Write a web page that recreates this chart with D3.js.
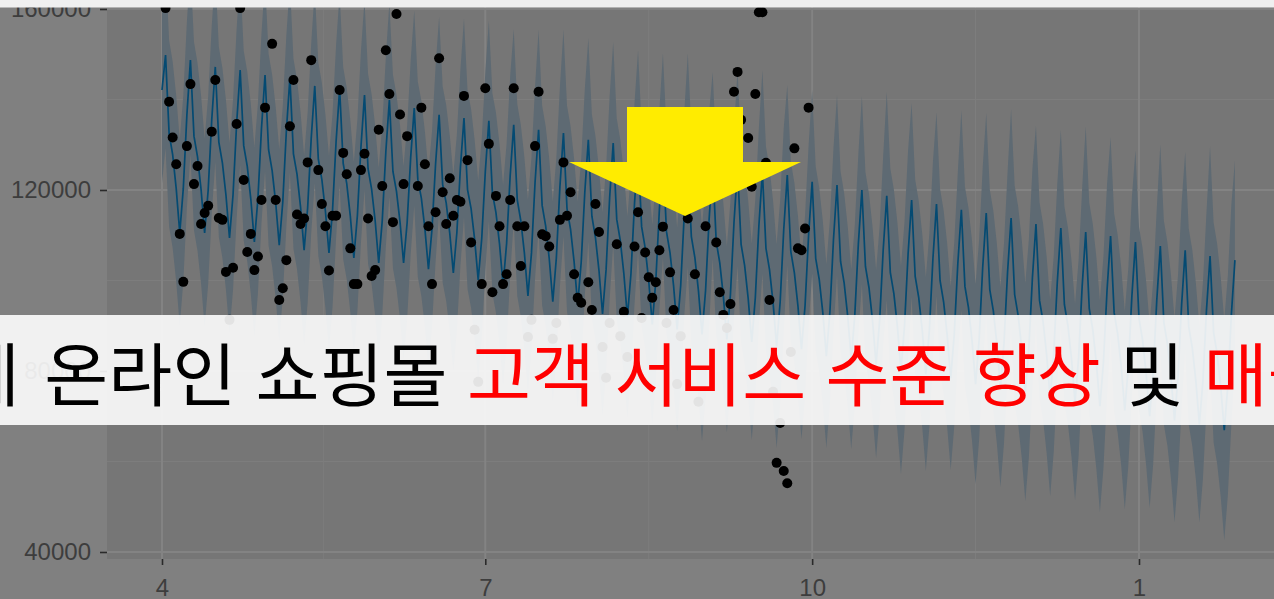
<!DOCTYPE html>
<html lang="ko">
<head>
<meta charset="utf-8">
<title>Forecast</title>
<script src="https://d3js.org/d3.v7.min.js"></script>
<style>
  body { margin: 0; background: #808080; overflow: hidden; }
  svg { display: block; }
</style>
</head>
<body>
<script>
let width = 1274
let height = 599

// first day of the series, every other day is an offset from it
let startDate = "2018-04-01"

// observed points (day offset, value)
let obsDay = [1,2,3,4,5,6,7,8,9,10,11,12,13,14,15,16,17,18,19,20,21,22,23,24,25,26,27,28,29,31,32,33,34,35,36,37,38,39,40,41,42,44,45,46,47,48,49,50,51,52,53,54,55,56,57,58,59,60,61,62,63,64,65,66,67,68,69,72,73,74,75,76,77,78,79,80,81,82,83,84,85,86,87,88,89,90,91,92,93,94,95,96,97,98,99,100,101,102,103,104,105,106,107,108,109,110,111,112,113,114,115,116,117,118,120,121,122,123,124,125,126,128,129,130,131,133,134,135,136,137,138,139,140,141,142,143,144,145,146,148,150,151,153,156,157,158,159,160,161,162,163,165,166,167,168,169,170,171,172,173,174,175,176,177,178,179,180,181,182]
let obsValue = [160200,139500,131600,125700,110300,99700,129700,143400,121300,125300,112500,114900,116500,132900,144300,113800,113400,101900,91300,102800,134600,160200,122200,106300,110300,102300,105300,117800,138200,152300,117800,95700,98300,104500,134100,144300,114600,112500,113700,126100,148700,124400,116900,112000,102200,114300,114300,142100,128200,123500,107100,99200,99200,124400,128000,113700,101000,102300,133300,120900,150900,141200,112900,158900,136700,121300,131900,120900,138200,125700,112000,99200,115100,149100,119500,112500,122600,114300,117800,117400,140800,126600,108400,89100,77600,99200,142500,130200,97400,118700,112000,99200,101400,117800,142500,112000,103200,112000,87500,91300,129700,141700,110200,109800,107500,87100,90600,113400,126100,114300,119500,101400,96200,95100,99600,93500,116900,110700,85300,78500,90600,108000,87700,93100,83100,107500,115100,91700,106200,100700,96200,99600,106700,111900,90600,101800,93500,77100,87700,113700,101400,73200,112000,108400,97400,92400,89500,94800,141700,146100,135500,131500,120700,141200,159300,159300,126000,95700,75400,59700,68500,57900,55200,84200,129200,107100,106700,111500,138200]

// fitted + forecast line, one value per day from day 0 to day 302
let yhat = [142100,
  149800,132500,127800,120300,110500,120400,136500,
  148700,131900,127300,120100,110500,120000,135500,
  147200,130600,126000,118900,109400,119000,134600,
  146500,129800,125200,118000,108500,118100,133600,
  145400,128900,124300,117200,107800,117400,133000,
  144800,128000,123500,116200,106700,116100,131400,
  143000,126800,122300,115300,106100,115500,130700,
  142300,125900,121400,114300,105000,114400,129500,
  141000,124700,120200,113200,103900,113300,128400,
  139900,124100,119700,112900,103900,112800,127200,
  138100,122400,118200,111400,102500,111400,125700,
  136600,121200,117100,110400,101700,110600,125000,
  135900,120100,115900,109100,100100,109300,124000,
  135300,119300,115000,108100,99000,108200,123100,
  134400,117800,113200,106100,96600,106100,121600,
  133300,116600,112000,104800,95300,105000,120700,
  132600,115900,111300,104100,94600,104100,119400,
  131100,114200,109500,102200,92600,102400,118300,
  130400,113500,108800,101500,91900,101500,117000,
  128800,111900,107200,99900,90300,100000,115700,
  127700,110800,106100,98800,89200,98900,114600,
  126600,109700,105000,97700,88100,97800,113500,
  125500,108600,103900,96600,87000,96900,112800,
  124900,108000,103300,96000,86400,96200,112000,
  124000,107100,102400,95100,85500,95300,111200,
  123300,106400,101700,94400,84800,94400,110000,
  121800,104900,100200,92900,83300,93100,109000,
  121100,104200,99500,92200,82600,92300,108000,
  120000,103100,98400,91100,81500,91200,106800,
  118700,101800,97100,89800,80200,90000,105800,
  117800,100900,96200,88900,79300,89100,104900,
  116900,100000,95300,88000,78400,88100,103700,
  115600,98700,94000,86700,77100,86900,102800,
  114900,98000,93300,86000,76400,86100,101800,
  113800,96900,92200,84900,75300,85000,100600,
  112500,95600,90900,83600,74000,83800,99600,
  111600,94700,90000,82700,73100,82900,98700,
  110700,93800,89100,81800,72200,82000,97800,
  109800,92900,88200,80900,71300,81000,96600,
  108500,91600,86900,79600,70000,79800,95600,
  107600,90700,86000,78700,69100,78900,94700,
  106700,89800,85100,77800,68200,77900,93500,
  105400,88500,83800,76500,66900,76700,92500,
  104500]

// half width of the uncertainty band, one value per week
let bandHalfWidth = [20600,20800,21000,21000,21200,21000,21400,21200,21000,21400,21600,21700,22000,22100,21200,22100,22800,22500,22300,22100,22500,23600,20600,21700,22500,19900,20300,19900,20800,23000,21400,20300,22100,22100,24100,21700,21700,23400,21900,20300,22500,21700,24300,22100]

let yTicks = [40000, 80000, 120000, 160000]
let yMinorTicks = [60000, 100000, 140000]
let xTicks = ["2018-04-01", "2018-07-01", "2018-10-01", "2019-01-01"]

let bannerWords = ["실제", "온라인 쇼핑몰", "고객 서비스 수준 향상", "및", "매출 증대"]
let bannerEmphasis = [false, false, true, false, true]

let parse = d3.timeParse("%Y-%m-%d")
let t0 = parse(startDate)
let dayDate = (d) => d3.timeDay.offset(t0, d)

let panel = {left: 107, right: 1292, top: -30, bottom: 559}

let x = d3.scaleTime()
    .domain([parse(xTicks[0]), parse(xTicks[3])])
    .range([162, 1139])

let y = d3.scaleLinear()
    .domain([40000, 160000])
    .range([552, 9])

let forecast = yhat.map((v, i) => {
    let w = bandHalfWidth[i === 0 ? 0 : Math.floor((i - 1) / 7)]
    return {date: dayDate(i), yhat: v, lo: v - w, hi: v + w}
})
let observed = obsDay.map((d, i) => ({date: dayDate(d), value: obsValue[i]}))

let svg = d3.select("body").append("svg")
    .attr("width", width)
    .attr("height", height)

svg.append("rect")
    .attr("width", width).attr("height", height)
    .attr("fill", "#808080")

svg.append("clipPath").attr("id", "clip")
    .append("rect")
    .attr("x", panel.left).attr("y", panel.top)
    .attr("width", panel.right - panel.left)
    .attr("height", panel.bottom - panel.top)

svg.append("rect")
    .attr("x", panel.left).attr("y", panel.top)
    .attr("width", panel.right - panel.left)
    .attr("height", panel.bottom - panel.top)
    .attr("fill", "#767676")

let grid = svg.append("g").attr("clip-path", "url(#clip)")

// minor grid: halfway between major breaks
let xDates = xTicks.map(parse)
let xMinor = d3.pairs(xDates).map(([a, b]) => new Date((+a + +b) / 2))

grid.selectAll(".ymin").data(yMinorTicks).enter().append("line")
    .attr("x1", panel.left).attr("x2", panel.right)
    .attr("y1", d => y(d)).attr("y2", d => y(d))
    .attr("stroke", "#7d7d7d").attr("stroke-width", 1.1)

grid.selectAll(".xmin").data(xMinor).enter().append("line")
    .attr("y1", panel.top).attr("y2", panel.bottom)
    .attr("x1", d => x(d)).attr("x2", d => x(d))
    .attr("stroke", "#7d7d7d").attr("stroke-width", 1.1)

grid.selectAll(".ymaj").data(yTicks).enter().append("line")
    .attr("x1", panel.left).attr("x2", panel.right)
    .attr("y1", d => y(d)).attr("y2", d => y(d))
    .attr("stroke", "#838383").attr("stroke-width", 2)

grid.selectAll(".xmaj").data(xDates).enter().append("line")
    .attr("y1", panel.top).attr("y2", panel.bottom)
    .attr("x1", d => x(d)).attr("x2", d => x(d))
    .attr("stroke", "#838383").attr("stroke-width", 2)

let plot = svg.append("g").attr("clip-path", "url(#clip)")

plot.append("path")
    .datum(forecast)
    .attr("d", d3.area()
        .x(d => x(d.date))
        .y0(d => y(d.lo))
        .y1(d => y(d.hi)))
    .attr("fill", "#5e6a73")

plot.append("path")
    .datum(forecast)
    .attr("d", d3.line()
        .x(d => x(d.date))
        .y(d => y(d.yhat)))
    .attr("fill", "none")
    .attr("stroke", "#044a72")
    .attr("stroke-width", 1.7)

plot.selectAll("circle")
    .data(observed)
    .enter()
    .append("circle")
    .attr("cx", d => x(d.date))
    .attr("cy", d => y(d.value))
    .attr("r", 5)
    .attr("fill", "#000")

// axes
let yAxis = svg.append("g")
    .attr("transform", `translate(${panel.left},0)`)
    .call(d3.axisLeft(y).tickValues(yTicks).tickSize(7).tickPadding(9)
        .tickFormat(d3.format("d")))
let xAxis = svg.append("g")
    .attr("transform", `translate(0,${panel.bottom})`)
    .call(d3.axisBottom(x).tickValues(xDates).tickSize(6).tickPadding(14)
        .tickFormat(d3.timeFormat("%-m")))

;[yAxis, xAxis].forEach(a => {
    a.select(".domain").remove()
    a.selectAll("line").attr("stroke", "#2a2a2a").attr("stroke-width", 1.6)
    a.selectAll("text")
        .attr("fill", "#3d3d3d")
        .attr("font-family", "'Liberation Sans', Arial, sans-serif")
        .attr("font-size", 24)
})

// caption banner laid over the chart
svg.append("rect")
    .attr("x", 0).attr("y", 315)
    .attr("width", width).attr("height", 110)
    .attr("fill", "#fff")
    .attr("fill-opacity", 0.89)

let caption = svg.append("text")
    .attr("x", -108)
    .attr("y", 401)
    .attr("font-family", "'Noto Sans CJK KR', sans-serif")
    .attr("font-size", 69.5)
    .style("white-space", "pre")

bannerWords.forEach((w, i) => {
    caption.append("tspan")
        .attr("dx", i === 1 ? 5 : 0)
        .attr("fill", bannerEmphasis[i] ? "#ff0000" : "#000000")
        .text(w + (i < bannerWords.length - 1 ? " " : ""))
})

// strip at the top of the screenshot
svg.append("rect")
    .attr("x", 0).attr("y", 0)
    .attr("width", width).attr("height", 7.5)
    .attr("fill", "#f0f0f0")

// yellow arrow
svg.append("polygon")
    .attr("points", [[627,107],[743,107],[743,162],[801,162],[685,216],[569,162],[627,162]].join(" "))
    .attr("fill", "#ffec00")
</script>
</body>
</html>
